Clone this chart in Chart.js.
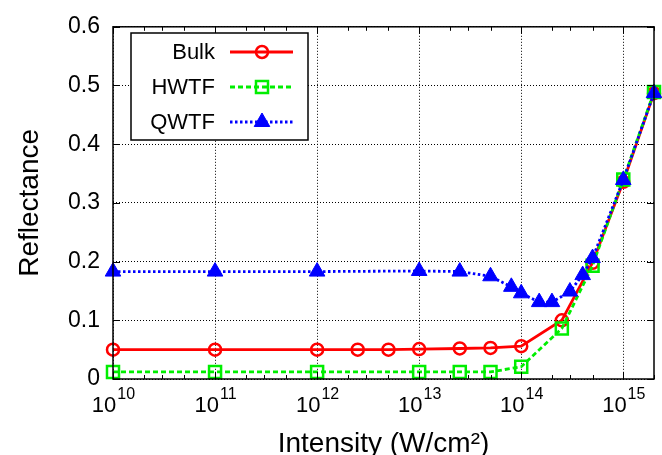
<!DOCTYPE html>
<html>
<head>
<meta charset="utf-8">
<script src="https://cdn.jsdelivr.net/npm/chart.js@4/dist/chart.umd.min.js"></script>
<style>
  body { margin: 0; background: #fff; }
  #c { display: block; }
</style>
</head>
<body>
<canvas id="c" width="662" height="455"></canvas>
<script>
// data
let bulkX = [1e10, 1e11, 1e12, 2.5e12, 5e12, 1e13, 2.5e13, 5e13, 1e14, 2.5e14, 5e14, 1e15, 2e15];
let bulkY = [0.050, 0.050, 0.050, 0.050, 0.050, 0.051, 0.052, 0.053, 0.056, 0.100, 0.198, 0.336, 0.487];

let hwtfX = [1e10, 1e11, 1e12, 1e13, 2.5e13, 5e13, 1e14, 2.5e14, 5e14, 1e15, 2e15];
let hwtfY = [0.012, 0.012, 0.012, 0.012, 0.012, 0.012, 0.021, 0.086, 0.193, 0.340, 0.489];

let qwtfX = [1e10, 1e11, 1e12, 1e13, 2.5e13, 5e13, 8e13, 1e14, 1.5e14, 2e14, 3e14, 4e14, 5e14, 1e15, 2e15];
let qwtfY = [0.183, 0.183, 0.183, 0.184, 0.183, 0.175, 0.157, 0.146, 0.131, 0.131, 0.149, 0.177, 0.206, 0.339, 0.487];

let seriesNames = ['Bulk', 'HWTF', 'QWTF'];
let xExponents = [10, 11, 12, 13, 14, 15];
let xMinorMult = [2, 3, 5];
let yTicks = [0, 0.1, 0.2, 0.3, 0.4, 0.5, 0.6];
let xTitle = 'Intensity (W/cm²)';
let yTitle = 'Reflectance';

const FONT = '"Liberation Sans", Arial, Helvetica, sans-serif';

let pts = (xs, ys) => xs.map((x, i) => ({ x: x, y: ys[i] }));

// ticks inside the frame, frame itself, and 10^n labels
let frame = {
    id: 'frame',
    afterDraw(chart) {
        let ctx = chart.ctx;
        let a = chart.chartArea;
        let xs = chart.scales.x, ys = chart.scales.y;
        ctx.save();
        ctx.strokeStyle = '#000';
        ctx.lineWidth = 1;
        ctx.beginPath();
        xExponents.forEach(n => {
            let px = Math.round(xs.getPixelForValue(Math.pow(10, n))) + 0.5;
            ctx.moveTo(px, a.bottom); ctx.lineTo(px, a.bottom - 7);
            ctx.moveTo(px, a.top); ctx.lineTo(px, a.top + 7);
            xMinorMult.forEach(m => {
                let v = m * Math.pow(10, n);
                if (v > xs.max) return;
                let p = Math.round(xs.getPixelForValue(v)) + 0.5;
                ctx.moveTo(p, a.bottom); ctx.lineTo(p, a.bottom - 4);
                ctx.moveTo(p, a.top); ctx.lineTo(p, a.top + 4);
            });
        });
        yTicks.forEach(v => {
            let py = Math.round(ys.getPixelForValue(v)) + 0.5;
            ctx.moveTo(a.left, py); ctx.lineTo(a.left + 7, py);
            ctx.moveTo(a.right, py); ctx.lineTo(a.right - 7, py);
        });
        ctx.stroke();
        ctx.lineWidth = 1.5;
        ctx.strokeRect(a.left, a.top, a.right - a.left, a.bottom - a.top);

        // x tick labels with real superscripts
        ctx.fillStyle = '#000';
        ctx.textBaseline = 'alphabetic';
        ctx.textAlign = 'left';
        xExponents.forEach(n => {
            let px = xs.getPixelForValue(Math.pow(10, n));
            ctx.font = '22px ' + FONT;
            let w1 = ctx.measureText('10').width;
            ctx.font = '16px ' + FONT;
            let w2 = ctx.measureText(String(n)).width;
            let x0 = px - (w1 + w2) / 2;
            ctx.font = '22px ' + FONT;
            ctx.fillText('10', x0, a.bottom + 33);
            ctx.font = '16px ' + FONT;
            ctx.fillText(String(n), x0 + w1 + 1, a.bottom + 20);
        });
        ctx.restore();
    }
};

// legend box: label on the left, line + marker sample on the right
let legendBox = {
    id: 'legendBox',
    afterDraw(chart) {
        let ctx = chart.ctx;
        ctx.save();
        ctx.fillStyle = '#fff';
        ctx.fillRect(131, 33, 177, 107);
        ctx.strokeStyle = '#000';
        ctx.lineWidth = 1.5;
        ctx.strokeRect(131, 33, 177, 107);
        chart.data.datasets.forEach((ds, i) => {
            let y = 52 + i * 35;
            ctx.fillStyle = '#000';
            ctx.font = '22px ' + FONT;
            ctx.textAlign = 'right';
            ctx.textBaseline = 'middle';
            ctx.fillText(ds.label, 215, y + 1);
            ctx.strokeStyle = ds.borderColor;
            ctx.lineWidth = ds.borderWidth;
            ctx.setLineDash(ds.borderDash || []);
            ctx.beginPath();
            ctx.moveTo(230, y); ctx.lineTo(293, y);
            ctx.stroke();
            ctx.setLineDash([]);
            ctx.fillStyle = ds.pointBackgroundColor;
            ctx.lineWidth = ds.pointBorderWidth;
            Chart.helpers.drawPoint(ctx, {
                pointStyle: ds.pointStyle, radius: ds.pointRadius,
                borderWidth: ds.pointBorderWidth, rotation: 0
            }, 262, y);
        });
        ctx.restore();
    }
};

new Chart(document.getElementById('c').getContext('2d'), {
    type: 'line',
    data: {
        datasets: [{
            label: seriesNames[0],
            data: pts(bulkX, bulkY),
            borderColor: '#ff0000',
            borderWidth: 2.8,
            pointStyle: 'circle',
            pointRadius: 6,
            pointBorderWidth: 2.5,
            pointBorderColor: '#ff0000',
            pointBackgroundColor: 'rgba(0,0,0,0)',
            order: 3
        }, {
            label: seriesNames[1],
            data: pts(hwtfX, hwtfY),
            borderColor: '#00ee00',
            borderWidth: 2.8,
            borderDash: [5, 3],
            pointStyle: 'rect',
            pointRadius: 8.5,
            pointBorderWidth: 2.5,
            pointBorderColor: '#00ee00',
            pointBackgroundColor: 'rgba(0,0,0,0)',
            order: 2
        }, {
            label: seriesNames[2],
            data: pts(qwtfX, qwtfY),
            borderColor: '#0000ff',
            borderWidth: 2.8,
            borderDash: [2.5, 2.5],
            pointStyle: 'triangle',
            pointRadius: 9,
            pointBorderWidth: 1,
            pointBorderColor: '#0000ff',
            pointBackgroundColor: '#0000ff',
            order: 1
        }].map(d => Object.assign(d, { fill: false, tension: 0, clip: false }))
    },
    options: {
        responsive: false,
        animation: false,
        events: [],
        layout: { autoPadding: false, padding: { top: 21, right: 8, left: 0, bottom: 0 } },
        plugins: { legend: { display: false }, tooltip: { enabled: false } },
        scales: {
            x: {
                type: 'logarithmic',
                min: 1e10,
                max: 2e15,
                afterBuildTicks: s => { s.ticks = xExponents.map(n => ({ value: Math.pow(10, n) })); },
                afterFit: s => { s.height = 76; },
                ticks: { display: false },
                border: { display: false, dash: [1, 2] },
                grid: { color: '#000', lineWidth: 1, drawTicks: false },
                title: {
                    display: true, text: xTitle, color: '#000',
                    font: { family: FONT, size: 28, lineHeight: 0.8 }, padding: 0
                }
            },
            y: {
                min: 0,
                max: 0.6,
                afterBuildTicks: s => { s.ticks = yTicks.map(v => ({ value: v })); },
                afterFit: s => { s.width = 113; },
                ticks: {
                    color: '#000', padding: 13,
                    font: { family: FONT, size: 23 },
                    callback: v => String(Math.round(v * 10) / 10)
                },
                border: { display: false, dash: [1, 2] },
                grid: { color: '#000', lineWidth: 1, drawTicks: false },
                title: {
                    display: true, text: yTitle, color: '#000',
                    font: { family: FONT, size: 28, lineHeight: 1.2 }, padding: { top: 13 }
                }
            }
        }
    },
    plugins: [frame, legendBox]
});
</script>
</body>
</html>
